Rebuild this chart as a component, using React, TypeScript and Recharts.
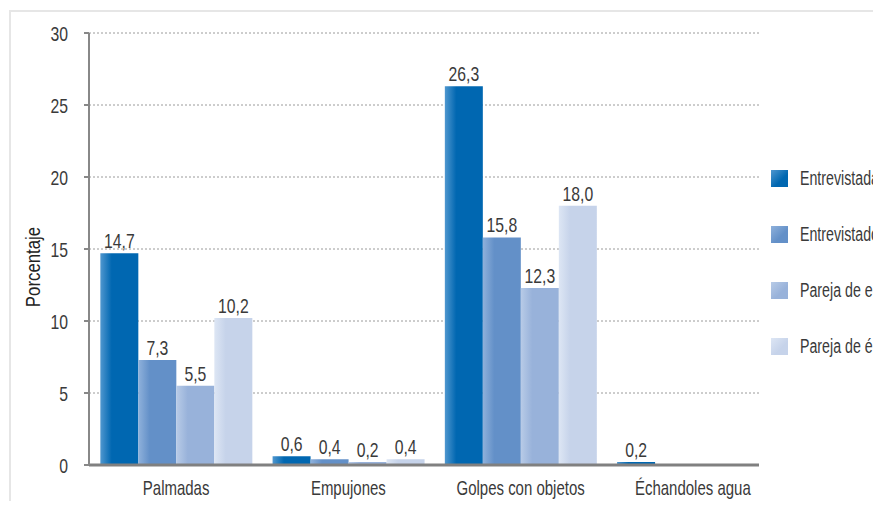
import React from "react"
import {
  BarChart,
  Bar,
  XAxis,
  YAxis,
  CartesianGrid,
  LabelList,
} from "recharts"

// Narrow look: Arial-metric font squeezed horizontally, like the condensed face of the original
const FONT = '"Liberation Sans", Arial, sans-serif'
const SQUEEZE = 0.75
const TEXT_COLOR = "#3a3a3a"

const categories = ["Palmadas", "Empujones", "Golpes con objetos", "Échandoles agua"]
const entrevistada = [14.7, 0.6, 26.3, 0.2]
const entrevistado = [7.3, 0.4, 15.8, null]
const parejaElla = [5.5, 0.2, 12.3, null]
const parejaEl = [10.2, 0.4, 18.0, null]
const yTicks = [0, 5, 10, 15, 20, 25, 30]

const series = [
  { key: "entrevistada", name: "Entrevistada", values: entrevistada, base: "#0067b1", light: "#4f97cf" },
  { key: "entrevistado", name: "Entrevistado", values: entrevistado, base: "#6390c8", light: "#8fb1db" },
  { key: "parejaElla", name: "Pareja de ella", values: parejaElla, base: "#98b2da", light: "#b8cbe7" },
  { key: "parejaEl", name: "Pareja de él", values: parejaEl, base: "#c6d3ea", light: "#dde6f4" },
]

const data = categories.map((name, i) => {
  const row: Record<string, string | number | null> = { name }
  series.forEach((s) => {
    row[s.key] = s.values[i]
  })
  return row
})

/** Decimal comma, one place (18 -> "18,0"). */
function formatValue(v: unknown): string {
  if (v === null || v === undefined || v === "") return ""
  return Number(v).toFixed(1).replace(".", ",")
}

function NarrowText({ x, y, anchor, size, dy, children }: any) {
  return (
    <g transform={`translate(${x},${y}) scale(${SQUEEZE},1)`}>
      <text x={0} y={0} dy={dy} textAnchor={anchor} fill={TEXT_COLOR} fontSize={size} fontFamily={FONT}>
        {children}
      </text>
    </g>
  )
}

function XTick({ x, y, payload }: any) {
  return (
    <NarrowText x={x} y={y} anchor="middle" size={20} dy="0.75em">
      {payload.value}
    </NarrowText>
  )
}

function YTick({ x, y, payload }: any) {
  return (
    <NarrowText x={x} y={y} anchor="end" size={21} dy="0.36em">
      {payload.value}
    </NarrowText>
  )
}

function BarValue({ x, y, width, value }: any) {
  const text = formatValue(value)
  if (!text) return null
  return (
    <NarrowText x={Number(x) + Number(width) / 2} y={Number(y) - 5} anchor="middle" size={21} dy={0}>
      {text}
    </NarrowText>
  )
}

function LegendBox() {
  return (
    <div style={{ position: "absolute", left: 771, top: 168, fontFamily: FONT, color: TEXT_COLOR }}>
      {series.map((s) => (
        <div key={s.key} style={{ display: "flex", alignItems: "center", height: 20, marginBottom: 36, whiteSpace: "nowrap" }}>
          <div
            style={{
              width: 17,
              height: 17,
              marginRight: 12,
              flex: "none",
              background: `linear-gradient(135deg, ${s.light} 0%, ${s.base} 60%)`,
            }}
          />
          <span
            style={{
              fontSize: 20,
              display: "inline-block",
              transform: "scaleX(0.71)",
              transformOrigin: "left center",
            }}
          >
            {s.name}
          </span>
        </div>
      ))}
    </div>
  )
}

export default function App() {
  return (
    <div
      style={{
        position: "relative",
        margin: -8,
        width: 881,
        height: 509,
        overflow: "hidden",
        background: "#fff",
      }}
    >
      <div
        style={{
          position: "absolute",
          left: 9,
          top: 10,
          width: 1000,
          height: 600,
          borderLeft: "2px solid #e6e6e6",
          borderTop: "2px solid #e6e6e6",
        }}
      />
      <BarChart
        width={881}
        height={509}
        data={data}
        margin={{ top: 33, right: 122, bottom: 14, left: 29 }}
        barCategoryGap="6%"
        barGap={0}
        style={{ position: "absolute", left: 0, top: 0 }}
      >
        <defs>
          {series.map((s) => (
            <linearGradient key={s.key} id={`grad-${s.key}`} x1="0" y1="0" x2="1" y2="0">
              <stop offset="0%" stopColor={s.light} />
              <stop offset="30%" stopColor={s.base} />
              <stop offset="100%" stopColor={s.base} />
            </linearGradient>
          ))}
        </defs>
        <CartesianGrid
          vertical={false}
          stroke="#9a9a9a"
          strokeDasharray="2 2"
          horizontalValues={[5, 10, 15, 20, 25, 30]}
        />
        <XAxis
          dataKey="name"
          height={30}
          padding={{ left: 1, right: -20 }}
          tickLine={false}
          tickSize={0}
          tickMargin={15}
          axisLine={{ stroke: "#808080", strokeWidth: 3 }}
          tick={<XTick />}
          interval={0}
        />
        <YAxis
          width={60}
          domain={[0, 30]}
          ticks={yTicks}
          interval={0}
          tickSize={5}
          tickMargin={16}
          axisLine={{ stroke: "#888", strokeWidth: 2 }}
          tickLine={{ stroke: "#888", strokeWidth: 2 }}
          tick={<YTick />}
          label={{
            content: () => (
              <g transform="translate(40,267) rotate(-90) scale(0.8,1)">
                <text x={0} y={0} textAnchor="middle" fill="#222" fontSize={21} fontFamily={FONT}>
                  Porcentaje
                </text>
              </g>
            ),
          }}
        />
        {series.map((s) => (
          <Bar
            key={s.key}
            dataKey={s.key}
            name={s.name}
            fill={`url(#grad-${s.key})`}
            isAnimationActive={false}
          >
            <LabelList dataKey={s.key} content={<BarValue />} />
          </Bar>
        ))}
      </BarChart>
      <LegendBox />
    </div>
  )
}
